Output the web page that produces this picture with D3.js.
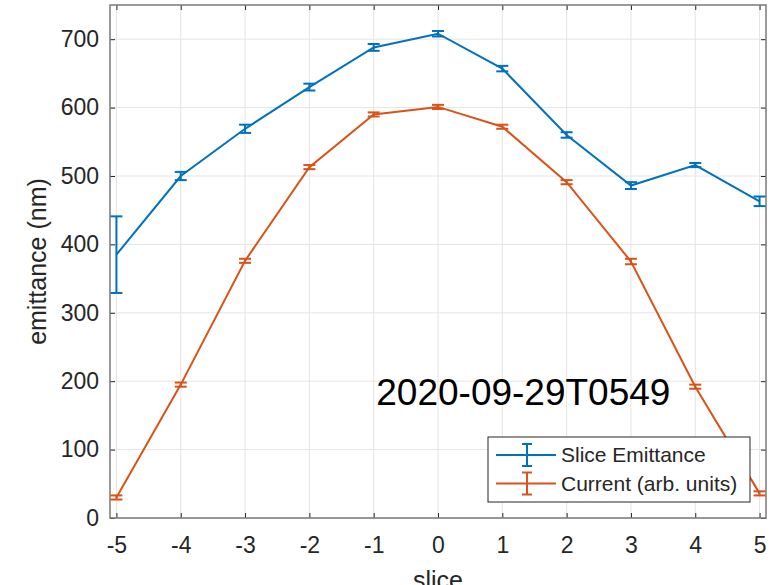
<!DOCTYPE html>
<html>
<head>
<meta charset="utf-8">
<script src="https://cdn.jsdelivr.net/npm/d3@7"></script>
<style>
  body { margin: 0; background: #fff; }
  svg { display: block; font-family: "Liberation Sans", Arial, sans-serif; }
</style>
</head>
<body>
<svg></svg>
<script>
// slice index
var slices = [-5, -4, -3, -2, -1, 0, 1, 2, 3, 4, 5];
// slice emittance (nm) and its error
var emittance = [385, 500, 569, 630, 688, 708, 657, 560, 486, 516, 463];
var emittanceErr = [56, 6, 6, 5, 5, 4, 4, 4, 5, 3, 7];
// current, arbitrary units
var current = [30, 195, 376, 513, 590, 601, 572, 491, 375, 192, 36];
var currentErr = [3, 3, 3, 3, 3, 3, 3, 3, 4, 3, 3];

var xTicks = [-5, -4, -3, -2, -1, 0, 1, 2, 3, 4, 5];
var yTicks = [0, 100, 200, 300, 400, 500, 600, 700];
var seriesNames = ["Slice Emittance", "Current (arb. units)"];
var stamp = "2020-09-29T0549";

var width = 782, height = 585;
var padL = 110, padR = 766, padT = 5, padB = 518;

var svg = d3.select("svg").attr("width", width).attr("height", height);

var xScale = d3.scaleLinear().domain([-5.1, 5.1]).range([padL, padR]);
var yScale = d3.scaleLinear().domain([0, 750]).range([padB, padT]);

// grid
svg.append("g")
   .selectAll("line").data(xTicks).enter().append("line")
   .attr("x1", d => xScale(d)).attr("x2", d => xScale(d))
   .attr("y1", padT).attr("y2", padB)
   .attr("stroke", "#e4e4e4").attr("stroke-width", 1);
svg.append("g")
   .selectAll("line").data(yTicks).enter().append("line")
   .attr("x1", padL).attr("x2", padR)
   .attr("y1", d => yScale(d)).attr("y2", d => yScale(d))
   .attr("stroke", "#e4e4e4").attr("stroke-width", 1);

// axes, ticks inside
function styleAxis(g) {
  g.select(".domain").remove();
  g.selectAll(".tick line").attr("stroke", "#262626").attr("stroke-width", 1);
  g.selectAll("text").attr("fill", "#262626").style("font-size", "23px")
   .style("font-family", "Liberation Sans, Arial, sans-serif");
}
var plain = d => String(d);

svg.append("g")
   .attr("transform", "translate(0," + padB + ")")
   .call(d3.axisBottom(xScale).tickValues(xTicks).tickSize(-5).tickPadding(19).tickFormat(plain))
   .call(styleAxis);
svg.append("g")
   .attr("transform", "translate(0," + padT + ")")
   .call(d3.axisTop(xScale).tickValues(xTicks).tickSize(-5).tickFormat(""))
   .call(styleAxis);
svg.append("g")
   .attr("transform", "translate(" + padL + ",0)")
   .call(d3.axisLeft(yScale).tickValues(yTicks).tickSize(-5).tickPadding(11).tickFormat(plain))
   .call(styleAxis);
svg.append("g")
   .attr("transform", "translate(" + padR + ",0)")
   .call(d3.axisRight(yScale).tickValues(yTicks).tickSize(-5).tickFormat(""))
   .call(styleAxis);

// box
svg.append("rect")
   .attr("x", padL).attr("y", padT)
   .attr("width", padR - padL).attr("height", padB - padT)
   .attr("fill", "none").attr("stroke", "#7a7a7a").attr("stroke-width", 1.5);

// axis labels
svg.append("text")
   .attr("x", (padL + padR) / 2).attr("y", 589)
   .attr("text-anchor", "middle").attr("fill", "#262626")
   .style("font-size", "25px").text("slice");
svg.append("text")
   .attr("transform", "translate(46," + ((padT + padB) / 2) + ") rotate(-90)")
   .attr("text-anchor", "middle").attr("fill", "#262626")
   .style("font-size", "25px").text("emittance (nm)");

// series with error bars
var colors = ["#0072BD", "#D95319"];
var series = [
  slices.map((s, i) => ({x: s, y: emittance[i], e: emittanceErr[i]})),
  slices.map((s, i) => ({x: s, y: current[i], e: currentErr[i]}))
];
var cap = 6;
var line = d3.line().x(d => xScale(d.x)).y(d => yScale(d.y));

series.forEach(function(pts, k) {
  var g = svg.append("g").attr("stroke", colors[k]).attr("stroke-width", 2).attr("fill", "none");
  g.append("path").datum(pts).attr("d", line);
  var eb = g.selectAll("g.eb").data(pts).enter().append("g");
  eb.append("line")
    .attr("x1", d => xScale(d.x)).attr("x2", d => xScale(d.x))
    .attr("y1", d => yScale(d.y - d.e)).attr("y2", d => yScale(d.y + d.e));
  eb.append("line")
    .attr("x1", d => xScale(d.x) - cap).attr("x2", d => xScale(d.x) + cap)
    .attr("y1", d => yScale(d.y + d.e)).attr("y2", d => yScale(d.y + d.e));
  eb.append("line")
    .attr("x1", d => xScale(d.x) - cap).attr("x2", d => xScale(d.x) + cap)
    .attr("y1", d => yScale(d.y - d.e)).attr("y2", d => yScale(d.y - d.e));
});

// time stamp
svg.append("text")
   .attr("x", xScale(-0.96)).attr("y", yScale(165))
   .attr("fill", "#000").style("font-size", "37px")
   .text(stamp);

// legend
var lg = svg.append("g").attr("transform", "translate(488,437)");
lg.append("rect").attr("width", 262).attr("height", 65)
  .attr("fill", "#fff").attr("stroke", "#262626").attr("stroke-width", 1);
seriesNames.forEach(function(name, k) {
  var yy = 18 + k * 28.5;
  var g = lg.append("g").attr("stroke", colors[k]).attr("stroke-width", 2);
  g.append("line").attr("x1", 8).attr("x2", 68).attr("y1", yy).attr("y2", yy);
  g.append("line").attr("x1", 39).attr("x2", 39).attr("y1", yy - 11).attr("y2", yy + 11);
  g.append("line").attr("x1", 34).attr("x2", 44).attr("y1", yy - 11).attr("y2", yy - 11);
  g.append("line").attr("x1", 34).attr("x2", 44).attr("y1", yy + 11).attr("y2", yy + 11);
  lg.append("text").attr("x", 73).attr("y", yy + 7)
    .attr("fill", "#262626").style("font-size", "21px").text(name);
});
</script>
</body>
</html>
